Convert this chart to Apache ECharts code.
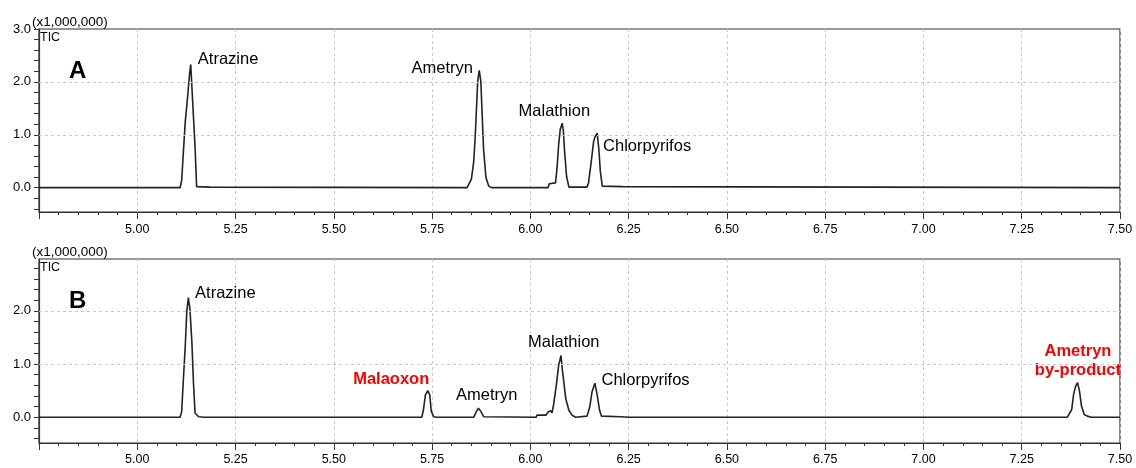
<!DOCTYPE html>
<html>
<head>
<meta charset="utf-8">
<script src="https://cdn.jsdelivr.net/npm/echarts@6/dist/echarts.min.js"></script>
<style>
html,body{margin:0;padding:0;background:#fff;}
#chart{width:1136px;height:468px;}
</style>
</head>
<body>
<div id="chart"></div>
<script>
// ---- Data (retention time in min, TIC in x1,000,000) ----
const timeA = [4.75, 5.109, 5.113, 5.117, 5.122, 5.128, 5.133, 5.136, 5.139, 5.143, 5.147, 5.151, 5.185, 5.187,
  5.839, 5.843, 5.850, 5.856, 5.860, 5.863, 5.866, 5.870, 5.874, 5.877, 5.881, 5.887, 5.894, 5.901,
  6.045, 6.048, 6.064, 6.068, 6.072, 6.076, 6.081, 6.084, 6.087, 6.092, 6.098,
  6.144, 6.148, 6.155, 6.161, 6.165, 6.170, 6.174, 6.178, 6.183, 6.234, 6.236, 7.5];
const ticA = [0, 0, 0.14, 0.64, 1.24, 1.71, 2.15, 2.33, 1.90, 1.33, 0.77, 0.02, 0.01, 0,
  0, 0.03, 0.16, 0.50, 1.01, 1.51, 2.01, 2.22, 2.01, 1.45, 0.72, 0.19, 0.03, 0,
  0, 0.075, 0.09, 0.38, 0.82, 1.10, 1.22, 1.07, 0.69, 0.22, 0.01,
  0.01, 0.09, 0.50, 0.88, 0.97, 1.03, 0.75, 0.31, 0.03, 0.02, 0, 0];

const timeB = [4.75, 5.109, 5.113, 5.117, 5.122, 5.126, 5.130, 5.134, 5.139, 5.143, 5.147, 5.156, 5.170,
  5.724, 5.728, 5.733, 5.739, 5.744, 5.748, 5.754, 5.762,
  5.856, 5.863, 5.868, 5.874, 5.881,
  6.015, 6.017, 6.040, 6.045, 6.052, 6.055, 6.059, 6.066, 6.072, 6.078, 6.081, 6.085, 6.090, 6.098, 6.106, 6.115,
  6.144, 6.151, 6.157, 6.164, 6.170, 6.176, 6.181, 6.230, 6.250,
  7.366, 7.370, 7.377, 7.382, 7.387, 7.392, 7.397, 7.402, 7.409, 7.417, 7.427, 7.5];
const ticB = [0, 0, 0.11, 0.67, 1.33, 1.99, 2.25, 2.03, 1.40, 0.64, 0.08, 0.01, 0,
  0, 0.14, 0.42, 0.50, 0.42, 0.11, 0.01, 0,
  0, 0.11, 0.17, 0.11, 0.01,
  0, 0.04, 0.04, 0.10, 0.12, 0.08, 0.23, 0.60, 0.98, 1.16, 0.92, 0.67, 0.35, 0.13, 0.04, 0,
  0.02, 0.19, 0.48, 0.64, 0.42, 0.13, 0.02, 0.01, 0,
  0, 0.02, 0.14, 0.43, 0.58, 0.65, 0.49, 0.21, 0.05, 0.02, 0, 0];

// Peak annotations (label text and its centre in data coordinates)
const namesA = ['Atrazine', 'Ametryn', 'Malathion', 'Chlorpyrifos'];
const labelTimeA = [5.231, 5.776, 6.061, 6.297];
const labelTicA = [2.42, 2.25, 1.45, 0.77];
const namesB = ['Atrazine', 'Malaoxon', 'Ametryn', 'Malathion', 'Chlorpyrifos', 'Ametryn\nby-product'];
const labelTimeB = [5.224, 5.646, 5.889, 6.085, 6.293, 7.393];
const labelTicB = [2.33, 0.71, 0.41, 1.41, 0.69, 1.06];
const highlightB = [false, true, false, false, false, true]; // new compounds shown in red

const xTicks = [5.00, 5.25, 5.50, 5.75, 6.00, 6.25, 6.50, 6.75, 7.00, 7.25, 7.50];
const yLabelsA = [0.0, 1.0, 2.0, 3.0];
const yLabelsB = [0.0, 1.0, 2.0];
const yTicksA = [-0.4, -0.2, 0, 0.2, 0.4, 0.6, 0.8, 1.0, 1.2, 1.4, 1.6, 1.8, 2.0, 2.2, 2.4, 2.6, 2.8, 3.0];
const yTicksB = [-0.4, -0.2, 0, 0.2, 0.4, 0.6, 0.8, 1.0, 1.2, 1.4, 1.6, 1.8, 2.0, 2.2, 2.4, 2.6, 2.8];
const yGridLines = [1.0, 2.0];
const panelLetters = ['A', 'B'];

// ---- Chart ----
const FONT = '"Liberation Sans", Arial, sans-serif';
const INK = '#333';
const pairs = (xs, ys) => xs.map((x, i) => [x, ys[i]]);

function xAxisFor(gi) {
  return {
    type: 'value', gridIndex: gi, min: 4.75, max: 7.5, interval: 0.25,
    axisLine: { show: true, onZero: false, lineStyle: { color: INK, width: 1.2 } },
    axisTick: { show: true, length: 7, lineStyle: { color: INK } },
    minorTick: { show: true, splitNumber: 5, length: 3, lineStyle: { color: INK } },
    axisLabel: {
      margin: gi === 0 ? 11 : 10, fontSize: 12.5, color: '#000', fontFamily: FONT,
      formatter: v => xTicks.some(t => Math.abs(t - v) < 1e-6) ? v.toFixed(2) : ''
    },
    splitLine: { show: true, lineStyle: { type: [3, 3], color: '#c8c8c8', width: 1 } },
    minorSplitLine: { show: false }
  };
}
function yAxisFor(gi, min, max, ticks, labels) {
  return {
    type: 'value', gridIndex: gi, min: min, max: max,
    axisLine: { show: true, onZero: false, lineStyle: { color: INK, width: 1.2 } },
    axisTick: { show: true, length: 5, customValues: ticks, lineStyle: { color: INK } },
    axisLabel: {
      margin: 8, fontSize: 13, color: '#000', fontFamily: FONT, customValues: labels,
      formatter: v => v.toFixed(1)
    },
    splitLine: { show: false }
  };
}
function labelSeries(gi, names, xs, ys, red) {
  return {
    type: 'scatter', xAxisIndex: gi, yAxisIndex: gi, z: 1, silent: true,
    symbolSize: 1, itemStyle: { color: 'rgba(0,0,0,0)', opacity: 1 },
    data: names.map((n, i) => ({
      value: [xs[i], ys[i]], name: n,
      label: {
        show: true, position: 'inside', formatter: n, opacity: 1,
        color: red && red[i] ? '#ff0000' : '#000',
        fontWeight: red && red[i] ? 'bold' : 'normal',
        fontSize: 16.5, lineHeight: 19, fontFamily: FONT, align: 'center', verticalAlign: 'middle'
      }
    })),
    markLine: {
      silent: true, symbol: 'none', label: { show: false },
      lineStyle: { type: [3, 3], color: '#c8c8c8', width: 1, opacity: 1 },
      data: yGridLines.map(v => ({ yAxis: v }))
    }
  };
}
function traceSeries(gi, xs, ys) {
  return {
    type: 'line', xAxisIndex: gi, yAxisIndex: gi, z: 3, silent: true,
    showSymbol: false, symbol: 'none',
    lineStyle: { color: '#222', width: 1.6 },
    data: pairs(xs, ys)
  };
}

const panelTops = [29, 259];
const graphics = [];
panelTops.forEach((top, i) => {
  graphics.push({ type: 'text', left: 32, top: top - 14, style: { text: '(x1,000,000)', fontSize: 13.5, fill: '#000', fontFamily: FONT } });
  graphics.push({ type: 'text', left: 40, top: top + 2, style: { text: 'TIC', fontSize: 12.5, fill: '#000', fontFamily: FONT } });
  graphics.push({ type: 'text', left: 69, top: top + 30, style: { text: panelLetters[i], fontSize: 24, fontWeight: 'bold', fill: '#000', fontFamily: FONT } });
});

const chart = echarts.init(document.getElementById('chart'), null, { renderer: 'canvas' });
chart.setOption({
  animation: false,
  backgroundColor: '#fff',
  grid: [
    { left: 39, top: 29, width: 1081, height: 183, show: true, borderColor: INK, borderWidth: 1.2, backgroundColor: 'transparent' },
    { left: 39, top: 259, width: 1081, height: 184, show: true, borderColor: INK, borderWidth: 1.2, backgroundColor: 'transparent' }
  ],
  xAxis: [xAxisFor(0), xAxisFor(1)],
  yAxis: [yAxisFor(0, -0.46, 3.0, yTicksA, yLabelsA), yAxisFor(1, -0.485, 2.975, yTicksB, yLabelsB)],
  series: [
    labelSeries(0, namesA, labelTimeA, labelTicA, null),
    traceSeries(0, timeA, ticA),
    labelSeries(1, namesB, labelTimeB, labelTicB, highlightB),
    traceSeries(1, timeB, ticB)
  ],
  graphic: graphics
});
</script>
</body>
</html>
